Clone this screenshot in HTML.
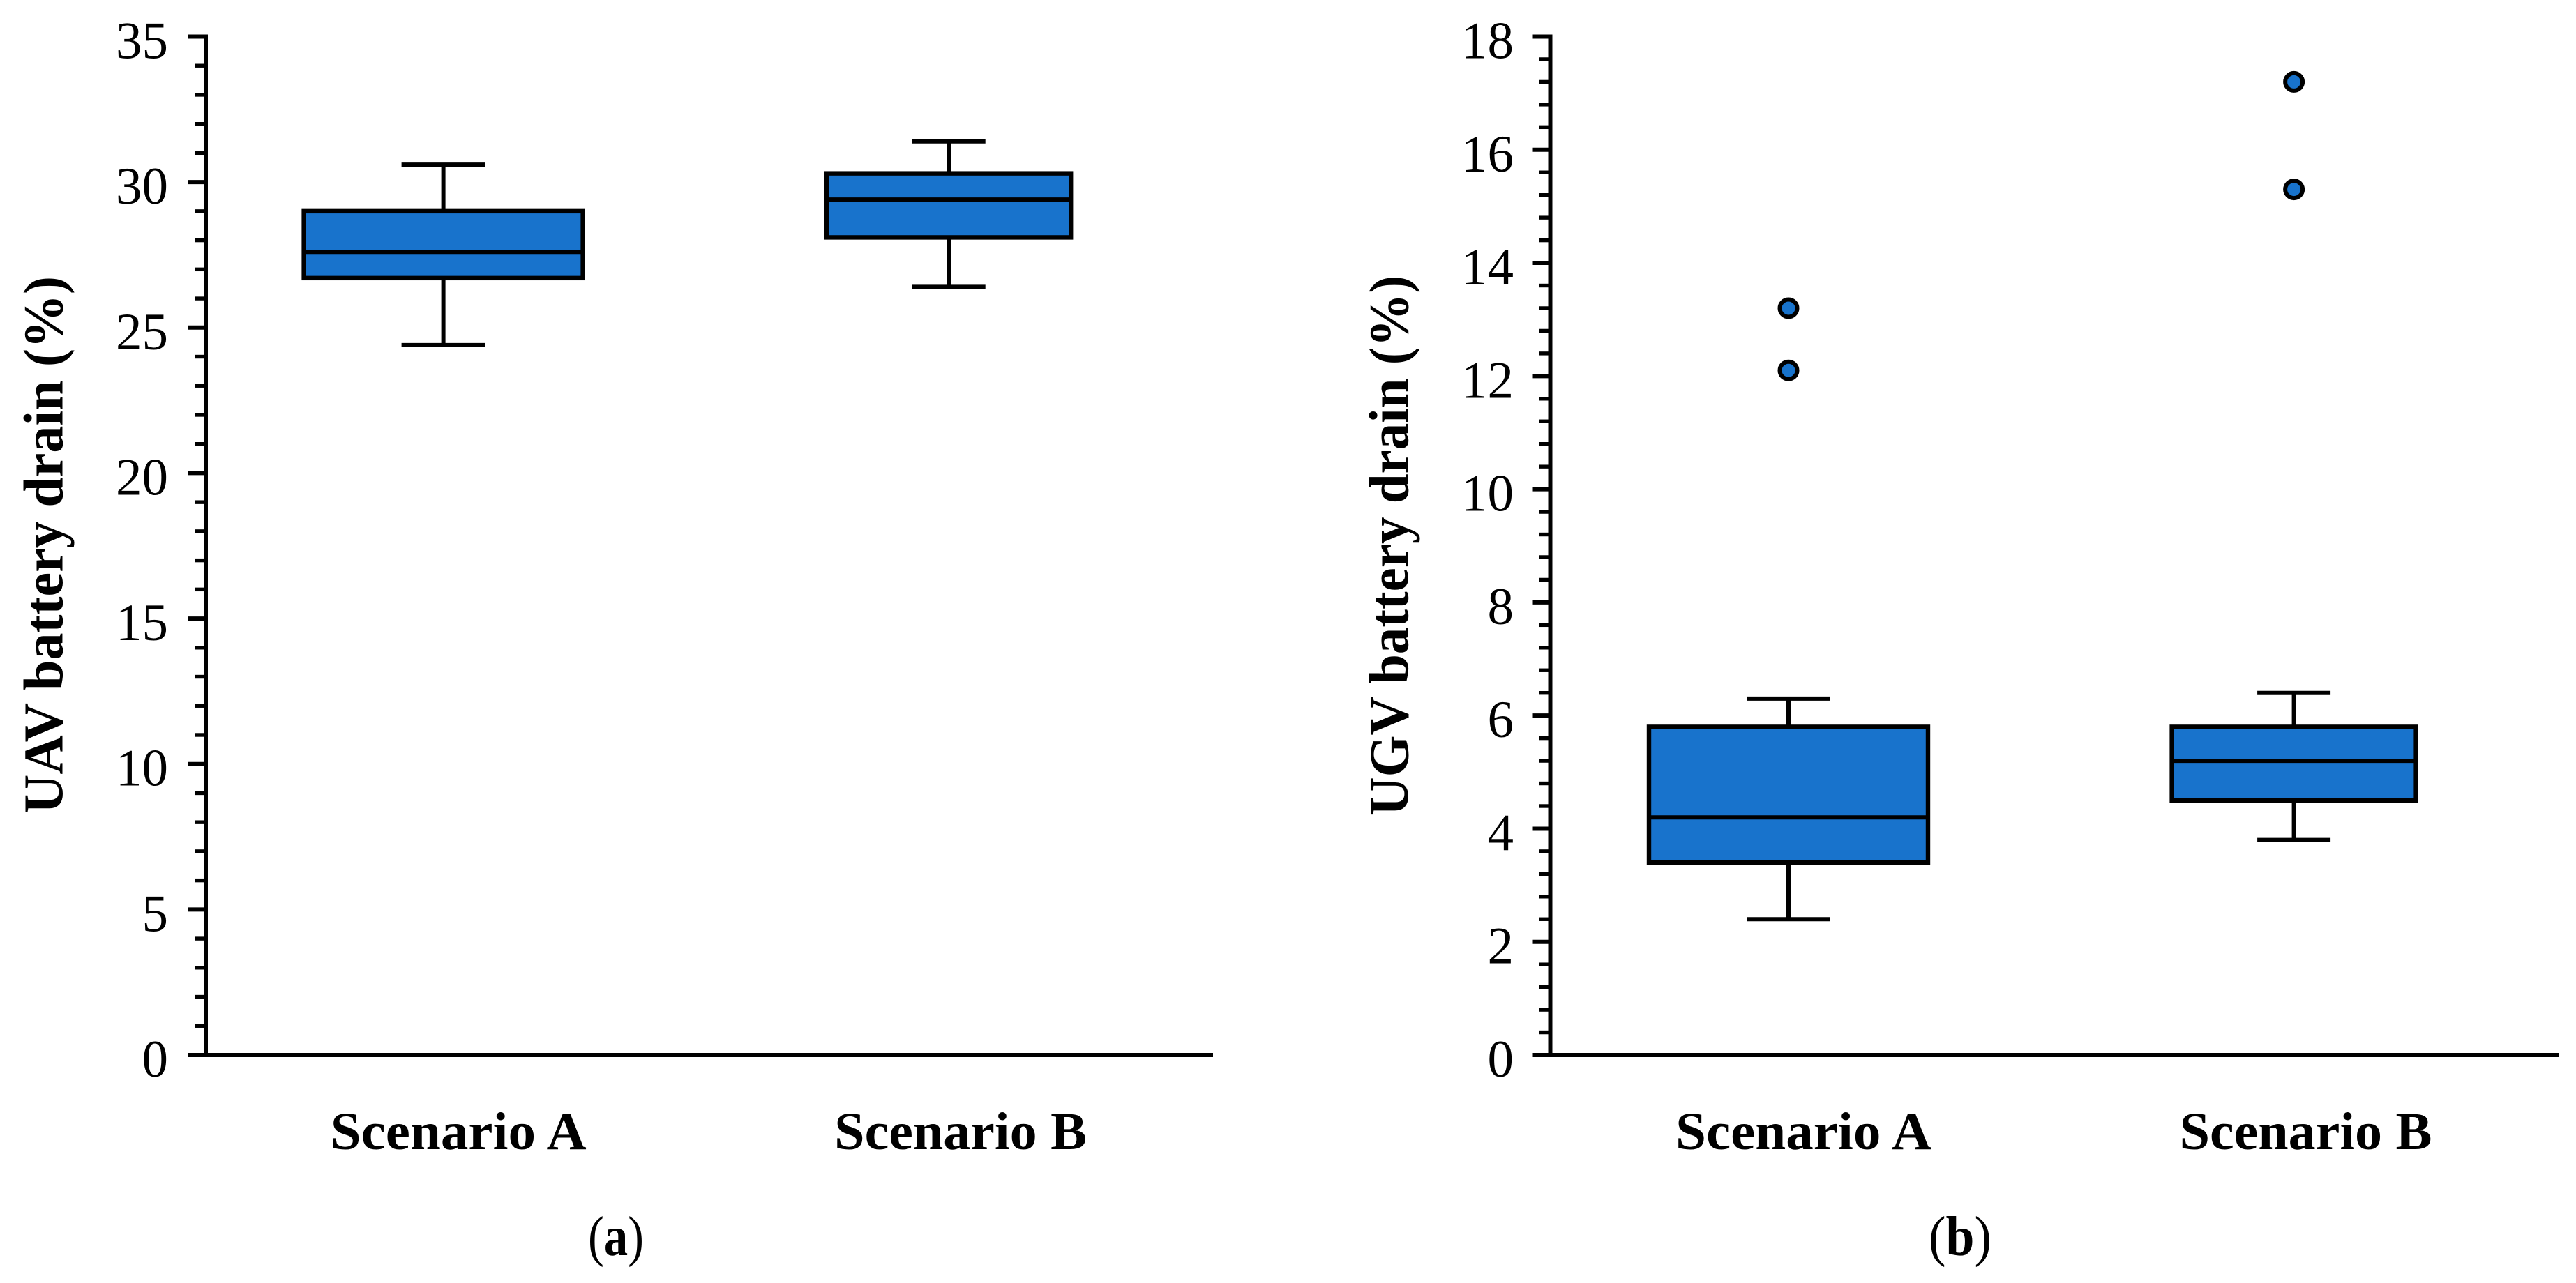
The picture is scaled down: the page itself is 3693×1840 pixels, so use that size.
<!DOCTYPE html>
<html lang="en">
<head>
<meta charset="utf-8">
<title>UAV and UGV battery drain by scenario</title>
<style>
  html, body { margin: 0; padding: 0; background: #ffffff; }
  svg { display: block; }
  text { font-family: "Liberation Serif", "DejaVu Serif", serif; fill: #000000; }
</style>
</head>
<body>
<svg id="figure" xmlns="http://www.w3.org/2000/svg" width="3693" height="1840" viewBox="0 0 3693 1840">
  <rect x="0" y="0" width="3693" height="1840" fill="#ffffff"/>
  <g id="panel-a"></g>
  <g id="panel-b"></g>
  <text transform="translate(89.5 1167) rotate(-90)" font-size="80" font-weight="700" textLength="771" lengthAdjust="spacingAndGlyphs">UAV battery drain (%)</text>
  <text transform="translate(2018.5 1170) rotate(-90)" font-size="80" font-weight="700" textLength="775" lengthAdjust="spacingAndGlyphs">UGV battery drain (%)</text>
  <text x="843" y="1800" font-size="80" textLength="80" lengthAdjust="spacingAndGlyphs">(<tspan font-weight="700">a</tspan>)</text>
  <text x="2765" y="1800" font-size="80" textLength="90" lengthAdjust="spacingAndGlyphs">(<tspan font-weight="700">b</tspan>)</text>
</svg>
<script>
const categories = ['Scenario A', 'Scenario B'];

const uavTickLabels = [0, 5, 10, 15, 20, 25, 30, 35];
const uavLow = [24.4, 26.4];
const uavQ1 = [26.7, 28.1];
const uavMedian = [27.6, 29.4];
const uavQ3 = [29.0, 30.3];
const uavHigh = [30.6, 31.4];
const uavOutliers = [[], []];

const ugvTickLabels = [0, 2, 4, 6, 8, 10, 12, 14, 16, 18];
const ugvLow = [2.4, 3.8];
const ugvQ1 = [3.4, 4.5];
const ugvMedian = [4.2, 5.2];
const ugvQ3 = [5.8, 5.8];
const ugvHigh = [6.3, 6.4];
const ugvOutliers = [[12.1, 13.2], [15.3, 17.2]];

const SVG_NS = 'http://www.w3.org/2000/svg';
const BLUE = '#1873cc';
const PLOT_TOP = 52.5;
const PLOT_BOTTOM = 1513;
const CATEGORY_STEP = 724.6;
const LINE = 6;
const BOX_LINE = 6.4;
const NARROW_BOX = 350;
const WIDE_BOX = 400;

function make(parent, tag, attrs) {
  const el = document.createElementNS(SVG_NS, tag);
  for (const key in attrs) {
    el.setAttribute(key, attrs[key]);
  }
  parent.appendChild(el);
  return el;
}

function drawPanel(parent, cfg) {
  const ticks = cfg.ticks;
  const maxValue = ticks[ticks.length - 1];
  const y = function (v) { return PLOT_BOTTOM - (v / maxValue) * (PLOT_BOTTOM - PLOT_TOP); };
  const x = function (i) { return cfg.firstCategoryX + i * CATEGORY_STEP; };

  const yAxis = make(parent, 'line', { x1: cfg.axisX, x2: cfg.axisX, y1: y(maxValue) - LINE / 2, y2: PLOT_BOTTOM + LINE / 2, stroke: '#000', 'stroke-width': LINE });
  
  

  const xAxis = make(parent, 'line', { x1: cfg.axisX - 25, x2: cfg.axisEnd, y1: PLOT_BOTTOM, y2: PLOT_BOTTOM, stroke: '#000', 'stroke-width': LINE });
  
  

  ticks.forEach(function (t, i) {
    const major = make(parent, 'line', { x1: cfg.axisX - 25, x2: cfg.axisX, y1: y(t), y2: y(t), stroke: '#000', 'stroke-width': LINE });
    
    

    const label = make(parent, 'text', { x: cfg.labelRight, y: y(t) + 31, 'font-size': 75, 'text-anchor': 'end' });
    label.textContent = String(t);
    
    

    if (i < ticks.length - 1) {
      const step = (ticks[i + 1] - t) / 5;
      for (let m = 1; m < 5; m++) {
        const minor = make(parent, 'line', { x1: cfg.axisX - 16, x2: cfg.axisX, y1: y(t + m * step), y2: y(t + m * step), stroke: '#000', 'stroke-width': 5.4 });
        
        
      }
    }
  });

  categories.forEach(function (name, i) {
    const cx = x(i);
    const boxW = cfg.boxWidths[i];
    const capW = boxW * 0.3;

    const whiskerUp = make(parent, 'line', { x1: cx, x2: cx, y1: y(cfg.high[i]), y2: y(cfg.q3[i]), stroke: '#000', 'stroke-width': LINE });
    
    

    const whiskerDown = make(parent, 'line', { x1: cx, x2: cx, y1: y(cfg.q1[i]), y2: y(cfg.low[i]), stroke: '#000', 'stroke-width': LINE });
    
    

    const capUp = make(parent, 'line', { x1: cx - capW / 2, x2: cx + capW / 2, y1: y(cfg.high[i]), y2: y(cfg.high[i]), stroke: '#000', 'stroke-width': LINE });
    
    

    const capDown = make(parent, 'line', { x1: cx - capW / 2, x2: cx + capW / 2, y1: y(cfg.low[i]), y2: y(cfg.low[i]), stroke: '#000', 'stroke-width': LINE });
    
    

    const box = make(parent, 'rect', { x: cx - boxW / 2, y: y(cfg.q3[i]), width: boxW, height: y(cfg.q1[i]) - y(cfg.q3[i]), fill: BLUE, stroke: '#000', 'stroke-width': BOX_LINE });
    
    

    const median = make(parent, 'line', { x1: cx - boxW / 2, x2: cx + boxW / 2, y1: y(cfg.median[i]), y2: y(cfg.median[i]), stroke: '#000', 'stroke-width': LINE });
    
    

    cfg.outliers[i].forEach(function (v) {
      const dot = make(parent, 'circle', { cx: cx, cy: y(v), r: 12.5, fill: BLUE, stroke: '#000', 'stroke-width': LINE });
      
      
    });

    const labelStart = i === 0 ? cx - 162 : cx - 164;
    const labelWidth = i === 0 ? 367 : 362;
    const catLabel = make(parent, 'text', { x: labelStart, y: 1648, 'font-size': 76, 'font-weight': 700, textLength: labelWidth, lengthAdjust: 'spacingAndGlyphs' });
    catLabel.textContent = name;
    
    
  });
}

drawPanel(document.getElementById('panel-a'), {
  ticks: uavTickLabels,
  low: uavLow, q1: uavQ1, median: uavMedian, q3: uavQ3, high: uavHigh, outliers: uavOutliers,
  axisX: 295, axisEnd: 1739, labelRight: 241,
  firstCategoryX: 635.6, boxWidths: [WIDE_BOX, NARROW_BOX]
});

drawPanel(document.getElementById('panel-b'), {
  ticks: ugvTickLabels,
  low: ugvLow, q1: ugvQ1, median: ugvMedian, q3: ugvQ3, high: ugvHigh, outliers: ugvOutliers,
  axisX: 2222.5, axisEnd: 3668, labelRight: 2170,
  firstCategoryX: 2564, boxWidths: [WIDE_BOX, NARROW_BOX]
});
</script>
</body>
</html>
